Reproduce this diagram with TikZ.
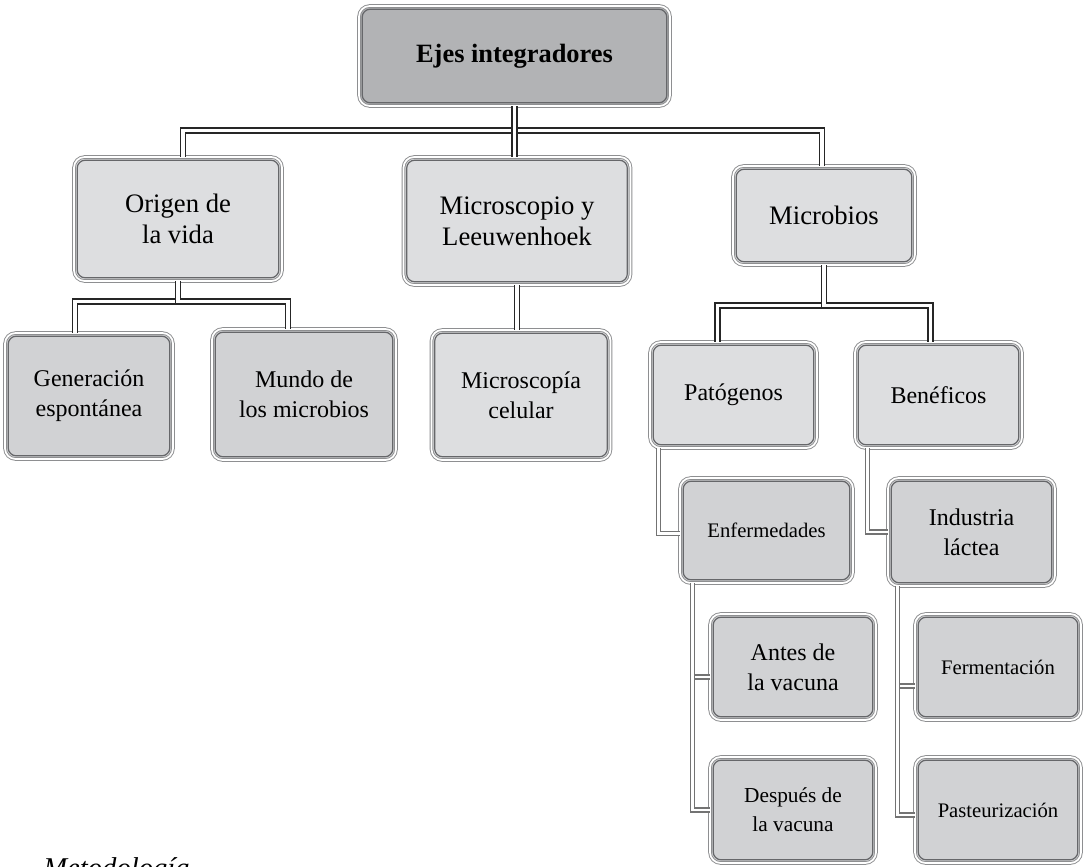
\documentclass[tikz,border=0pt]{standalone}
\usepackage{fontspec}
\setmainfont{Liberation Serif}
\usetikzlibrary{calc}

\definecolor{ejefill}{HTML}{B2B3B5}
\definecolor{claro}{HTML}{DDDEE0}
\definecolor{medio}{HTML}{D1D2D4}
\definecolor{borde}{HTML}{8E8F91}
\definecolor{bordeosc}{HTML}{66676A}

\tikzset{
  caja/.style={draw=borde, double=white, line width=0.7pt, double distance=1.3pt,
    rounded corners=8pt, align=center, inner sep=2pt,
    path picture={\draw[bordeosc, line width=0.9pt, rounded corners=6pt]
      ([shift={(2.4pt,-2.4pt)}]path picture bounding box.north west) rectangle
      ([shift={(-2.4pt,2.4pt)}]path picture bounding box.south east);}},
  nivel/.style={caja, fill=claro, font=\fontsize{20}{23}\selectfont},
  hoja/.style={caja, fill=medio, font=\fontsize{18}{22.5}\selectfont},
  enlace/.style={draw=black!85, double=white, line width=1.3pt, double distance=2.4pt},
  enlacegris/.style={draw=gray!90!black, double=white, line width=1.1pt, double distance=2.2pt}
}

\begin{document}
\begin{tikzpicture}[x=0.75pt,y=-0.75pt]
    \path[use as bounding box, clip] (0,0) rectangle (1092,867);

    %Shape: Rounded Rect [id:ejes]
    \node[caja, fill=ejefill, font=\fontsize{19.8}{23}\selectfont\bfseries,
      minimum width=311*0.75pt, minimum height=100*0.75pt] (ejes) at (514.5,56) {Ejes integradores};

    %Shape: Rounded Rect [id:origen]
    \node[nivel, minimum width=208*0.75pt, minimum height=124*0.75pt] (origen) at (178,219) {Origen de\\la vida};
    %Shape: Rounded Rect [id:micro]
    \node[nivel, minimum width=227*0.75pt, minimum height=128*0.75pt] (micro) at (517,221) {Microscopio y\\Leeuwenhoek};
    %Shape: Rounded Rect [id:microbios]
    \node[nivel, minimum width=182*0.75pt, minimum height=99*0.75pt] (microbios) at (824,215.5) {Microbios};

    %Shape: Rounded Rect [id:gener]
    \node[hoja, minimum width=168*0.75pt, minimum height=126*0.75pt] (gener) at (89,396) {Generación\\espontánea};
    %Shape: Rounded Rect [id:mundo]
    \node[hoja, minimum width=184*0.75pt, minimum height=131*0.75pt] (mundo) at (304,394.5) {Mundo de\\los microbios};
    %Shape: Rounded Rect [id:mcel]
    \node[hoja, fill=claro, minimum width=179*0.75pt, minimum height=130*0.75pt] (mcel) at (521,395) {Microscopía\\celular};

    %Shape: Rounded Rect [id:pat]
    \node[hoja, fill=claro, minimum width=167*0.75pt, minimum height=106*0.75pt] (pat) at (733.5,395) {Patógenos};
    %Shape: Rounded Rect [id:ben]
    \node[hoja, fill=claro, minimum width=167*0.75pt, minimum height=106*0.75pt] (ben) at (938.5,395) {Benéficos};

    %Shape: Rounded Rect [id:enf]
    \node[hoja, font=\fontsize{15.5}{19}\selectfont, minimum width=173*0.75pt, minimum height=105*0.75pt] (enf) at (766.5,530.5) {Enfermedades};
    %Shape: Rounded Rect [id:ind]
    \node[hoja, minimum width=167*0.75pt, minimum height=108*0.75pt] (ind) at (971.5,532) {Industria\\láctea};

    %Shape: Rounded Rect [id:antes]
    \node[hoja, minimum width=166*0.75pt, minimum height=106*0.75pt] (antes) at (793,667) {Antes de\\la vacuna};
    %Shape: Rounded Rect [id:desp]
    \node[hoja, font=\fontsize{16}{22}\selectfont, minimum width=166*0.75pt, minimum height=106*0.75pt] (desp) at (793,810) {Después de\\la vacuna};
    %Shape: Rounded Rect [id:ferm]
    \node[hoja, font=\fontsize{15.5}{19}\selectfont, minimum width=166*0.75pt, minimum height=106*0.75pt] (ferm) at (998,667) {Fermentación};
    %Shape: Rounded Rect [id:past]
    \node[hoja, font=\fontsize{15.5}{19}\selectfont, minimum width=166*0.75pt, minimum height=106*0.75pt] (past) at (998,810) {Pasteurización};

    %Straight Lines [id:ejes-hijos]
    \draw[enlace] (ejes.south) -- ++(0,24) -| ($(origen.north)+(5,0)$);
    \draw[enlace] (ejes.south) -- ++(0,24) -| ($(microbios.north)+(-2,0)$);
    \draw[enlace] (ejes.south) -- (ejes.south |- micro.north);
    %Straight Lines [id:origen-hijos]
    \draw[enlace] (origen.south) -- ++(0,20) -| ($(gener.north)+(-14,0)$);
    \draw[enlace] (origen.south) -- ++(0,20) -| ($(mundo.north)+(-16,0)$);
    %Straight Lines [id:micro-mcel]
    \draw[enlace] (micro.south) -- (micro.south |- mcel.north);
    %Straight Lines [id:microbios-hijos]
    \draw[enlace] (microbios.south) -- ++(0,40) -| ($(pat.north)+(-16,0)$);
    \draw[enlace] (microbios.south) -- ++(0,40) -| ($(ben.north)+(-8,0)$);

    %Straight Lines [id:laterales]
    \draw[enlacegris] (pat.south west) ++(9,0) |- ($(enf.west)+(0,3)$);
    \draw[enlacegris] (ben.south west) ++(13,0) |- (ind.west);
    \draw[enlacegris] (enf.south west) ++(13,0) |- ($(antes.west)+(0,10)$);
    \draw[enlacegris] (enf.south west) ++(13,0) |- (desp.west);
    \draw[enlacegris] (ind.south west) ++(10,0) |- ($(ferm.west)+(0,19)$);
    \draw[enlacegris] (ind.south west) ++(10,0) |- ($(past.west)+(0,5)$);

    % Text Node
    \node[anchor=base west, inner sep=0pt, font=\fontsize{21.5}{26}\selectfont\itshape] (pie) at (43,877) {Metodología};
\end{tikzpicture}
\end{document}
